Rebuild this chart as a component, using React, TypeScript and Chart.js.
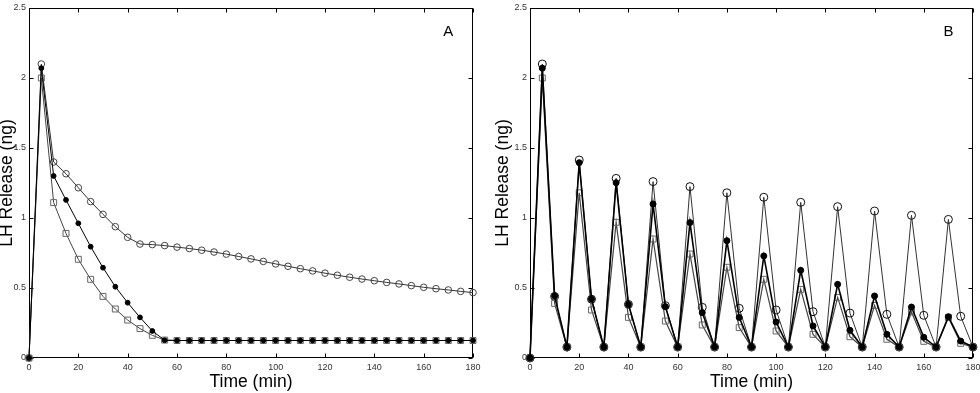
import React, { useEffect, useRef } from "react";
import { Chart, registerables } from "chart.js";
Chart.register(...registerables);

const FONT = "'Liberation Sans', Arial, Helvetica, sans-serif";

const time = [0, 5, 10, 15, 20, 25, 30, 35, 40, 45, 50, 55, 60, 65, 70, 75, 80, 85, 90, 95, 100, 105, 110, 115, 120, 125, 130, 135, 140, 145, 150, 155, 160, 165, 170, 175, 180];
const xTicks = [0, 20, 40, 60, 80, 100, 120, 140, 160, 180];
const yTicks = [0, 0.5, 1, 1.5, 2, 2.5];
const xTitle = "Time (min)";
const yTitle = "LH Release (ng)";
const panelLetters = ["A", "B"];
const letterPos = [170, 2.33];

// Panel A
const aCircles = [0, 2.10, 1.40, 1.316, 1.216, 1.117, 1.026, 0.938, 0.862, 0.814, 0.810, 0.803, 0.792, 0.782, 0.770, 0.757, 0.742, 0.725, 0.708, 0.690, 0.672, 0.655, 0.638, 0.622, 0.606, 0.591, 0.577, 0.564, 0.552, 0.540, 0.529, 0.517, 0.505, 0.495, 0.486, 0.476, 0.467];
const aDots = [0, 2.07, 1.30, 1.129, 0.962, 0.795, 0.645, 0.509, 0.395, 0.290, 0.193, 0.127, 0.125, 0.125, 0.125, 0.125, 0.125, 0.125, 0.125, 0.125, 0.125, 0.125, 0.125, 0.125, 0.125, 0.125, 0.125, 0.125, 0.125, 0.125, 0.125, 0.125, 0.125, 0.125, 0.125, 0.125, 0.125];
const aSquares = [0, 2.0, 1.11, 0.89, 0.705, 0.562, 0.44, 0.35, 0.271, 0.21, 0.162, 0.128, 0.125, 0.125, 0.125, 0.125, 0.125, 0.125, 0.125, 0.125, 0.125, 0.125, 0.125, 0.125, 0.125, 0.125, 0.125, 0.125, 0.125, 0.125, 0.125, 0.125, 0.125, 0.125, 0.125, 0.125, 0.125];

// Panel B
const bCircles = [0, 2.10, 0.44, 0.078, 1.414, 0.42, 0.078, 1.283, 0.383, 0.078, 1.26, 0.374, 0.078, 1.224, 0.362, 0.078, 1.18, 0.355, 0.078, 1.148, 0.343, 0.078, 1.112, 0.331, 0.078, 1.081, 0.321, 0.078, 1.05, 0.312, 0.078, 1.019, 0.305, 0.078, 0.99, 0.298, 0.078];
const bDots = [0, 2.07, 0.443, 0.078, 1.395, 0.421, 0.078, 1.252, 0.383, 0.078, 1.10, 0.367, 0.078, 0.967, 0.324, 0.078, 0.838, 0.29, 0.078, 0.729, 0.257, 0.078, 0.626, 0.229, 0.078, 0.526, 0.198, 0.078, 0.443, 0.169, 0.078, 0.364, 0.148, 0.078, 0.295, 0.121, 0.078];
const bSquares = [0, 2.0, 0.39, 0.078, 1.18, 0.343, 0.078, 0.969, 0.29, 0.078, 0.85, 0.264, 0.078, 0.743, 0.236, 0.078, 0.648, 0.217, 0.078, 0.562, 0.193, 0.078, 0.49, 0.169, 0.078, 0.433, 0.152, 0.078, 0.376, 0.134, 0.078, 0.329, 0.119, 0.078, 0.29, 0.105, 0.078];

type Style = {
  letter: string;
  yw: number;
  padRight: number;
  yTitlePad: number;
  dotR: number;
  dotLine: number;
  sqR: number;
  sqLine: number;
  cR: number;
  cLine: number;
  cEdge: string;
  cLineColor: string;
};

const framePlugin = (letter: string) => ({
  id: "frame" + letter,
  beforeDatasetsDraw(chart: any) {
    const { ctx, chartArea: a, scales } = chart;
    const x = scales.x;
    const y = scales.y;
    ctx.save();
    ctx.strokeStyle = "#000";
    ctx.lineWidth = 1;
    const l = Math.round(a.left) + 0.5;
    const r = Math.round(a.right) - 0.5;
    const t = Math.round(a.top) + 0.5;
    const b = Math.round(a.bottom) - 0.5;
    ctx.strokeRect(l, t, r - l, b - t);
    const tl = 4;
    ctx.beginPath();
    xTicks.forEach((v) => {
      const px = Math.round(x.getPixelForValue(v)) + 0.5;
      ctx.moveTo(px, b);
      ctx.lineTo(px, b - tl);
      ctx.moveTo(px, t);
      ctx.lineTo(px, t + tl);
    });
    yTicks.forEach((v) => {
      const py = Math.round(y.getPixelForValue(v)) + 0.5;
      ctx.moveTo(l, py);
      ctx.lineTo(l + tl, py);
      ctx.moveTo(r, py);
      ctx.lineTo(r - tl, py);
    });
    ctx.stroke();
    ctx.font = `15px ${FONT}`;
    ctx.textAlign = "center";
    ctx.textBaseline = "middle";
    ctx.fillStyle = "#000";
    ctx.fillText(letter, x.getPixelForValue(letterPos[0]), y.getPixelForValue(letterPos[1]));
    ctx.restore();
  },
});

function makeConfig(circles: number[], dots: number[], squares: number[], s: Style): any {
  const pts = (arr: number[]) => time.map((t, i) => ({ x: t, y: arr[i] }));
  return {
    type: "line",
    data: {
      datasets: [
        {
          label: "dots",
          data: pts(dots),
          borderColor: "#000",
          borderWidth: s.dotLine,
          pointStyle: "circle",
          pointRadius: s.dotR,
          pointBackgroundColor: "#000",
          pointBorderColor: "#000",
          pointBorderWidth: 1,
          tension: 0,
          clip: false,
        },
        {
          label: "squares",
          data: pts(squares),
          borderColor: "#444",
          borderWidth: s.sqLine,
          pointStyle: "rect",
          pointRadius: s.sqR,
          pointBackgroundColor: "rgba(255,255,255,0)",
          pointBorderColor: "#666",
          pointBorderWidth: 1,
          tension: 0,
          clip: false,
        },
        {
          label: "circles",
          data: pts(circles),
          borderColor: s.cLineColor,
          borderWidth: s.cLine,
          pointStyle: "circle",
          pointRadius: s.cR,
          pointBackgroundColor: "rgba(255,255,255,0)",
          pointBorderColor: s.cEdge,
          pointBorderWidth: 1,
          tension: 0,
          clip: false,
        },
      ],
    },
    options: {
      animation: false,
      responsive: false,
      events: [],
      layout: { padding: { top: 8, right: s.padRight, left: 0, bottom: 0 } },
      plugins: { legend: { display: false }, tooltip: { enabled: false } },
      scales: {
        x: {
          type: "linear",
          min: 0,
          max: 180,
          grid: { display: false, drawTicks: false },
          border: { display: false },
          ticks: {
            font: { family: FONT, size: 9 },
            color: "#333",
            padding: 4,
            maxRotation: 0,
            autoSkip: false,
            callback: (v: number) => String(v),
          },
          afterBuildTicks: (sc: any) => {
            sc.ticks = xTicks.map((v) => ({ value: v }));
          },
          afterFit: (sc: any) => {
            sc.height = 35;
            sc.paddingLeft = 0;
            sc.paddingRight = 0;
          },
          title: {
            display: true,
            text: xTitle,
            color: "#000",
            font: { family: FONT, size: 17.5, lineHeight: 1 },
            padding: { top: 0, bottom: 2.5 },
          },
        },
        y: {
          type: "linear",
          min: 0,
          max: 2.5,
          grid: { display: false, drawTicks: false },
          border: { display: false },
          ticks: {
            font: { family: FONT, size: 9 },
            color: "#333",
            padding: 3,
            autoSkip: false,
            callback: (v: number) => String(v),
          },
          afterBuildTicks: (sc: any) => {
            sc.ticks = yTicks.map((v) => ({ value: v }));
          },
          afterFit: (sc: any) => {
            sc.width = s.yw;
            sc.paddingTop = 0;
            sc.paddingBottom = 0;
          },
          title: {
            display: true,
            text: yTitle,
            color: "#000",
            font: { family: FONT, size: 17.5, lineHeight: 0.8 },
            padding: { top: s.yTitlePad, bottom: 0 },
          },
        },
      },
    },
    plugins: [framePlugin(s.letter)],
  };
}

function Panel(props: { circles: number[]; dots: number[]; squares: number[]; style: Style; left: number }) {
  const ref = useRef<HTMLCanvasElement | null>(null);
  useEffect(() => {
    if (!ref.current) return;
    const chart = new Chart(ref.current, makeConfig(props.circles, props.dots, props.squares, props.style));
    return () => chart.destroy();
  }, []);
  return (
    <canvas
      ref={ref}
      width={490}
      height={393}
      style={{ position: "absolute", left: props.left, top: 0, width: 490, height: 393 }}
    />
  );
}

const styleA: Style = {
  letter: panelLetters[0],
  yw: 29,
  padRight: 17,
  yTitlePad: 0,
  dotR: 2.4,
  dotLine: 1,
  sqR: 4.2,
  sqLine: 1,
  cR: 3.3,
  cLine: 1,
  cEdge: "#444",
  cLineColor: "#333",
};

const styleB: Style = {
  letter: panelLetters[1],
  yw: 40,
  padRight: 7,
  yTitlePad: 6.5,
  dotR: 3,
  dotLine: 1.6,
  sqR: 4.2,
  sqLine: 1.2,
  cR: 4,
  cLine: 1,
  cEdge: "#111",
  cLineColor: "#333",
};

export default function App() {
  return (
    <div style={{ position: "fixed", left: 0, top: 0, width: 980, height: 393, background: "#fff" }}>
      <Panel circles={aCircles} dots={aDots} squares={aSquares} style={styleA} left={0} />
      <Panel circles={bCircles} dots={bDots} squares={bSquares} style={styleB} left={490} />
    </div>
  );
}
